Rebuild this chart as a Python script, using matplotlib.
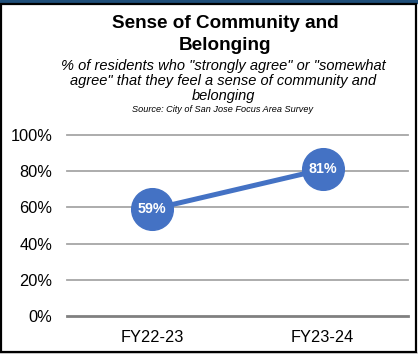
import matplotlib.pyplot as plt
from matplotlib.patches import Rectangle

# Данные
years = ['FY22-23', 'FY23-24']
share = [59, 81]
yticks = [0, 20, 40, 60, 80, 100]

plt.rcParams['font.family'] = ['Liberation Sans', 'DejaVu Sans']

W, H = 418, 354
fig = plt.figure(figsize=(W / 100, H / 100), dpi=100)

# Рамка вокруг графика
fig.patches.append(Rectangle((0, 1 - 2.5 / H), 1, 2.5 / H, transform=fig.transFigure,
                             color='#1F4E79', zorder=0))
fig.patches.append(Rectangle((1 / W, 2 / H), 1 - 3 / W, 1 - 6 / H, transform=fig.transFigure,
                             facecolor='none', edgecolor='black', lw=1.6, zorder=1))
fig.patches.append(Rectangle((0, 0), 1, 2 / H, transform=fig.transFigure,
                             color='#D9D9D9', zorder=0))

ax = fig.add_axes([67 / W, 1 - 316 / H, 341 / W, 181 / H])

ax.plot(range(len(years)), share, color='#4472C4', lw=3.6, marker='o',
        markersize=30, markerfacecolor='#4472C4', markeredgecolor='#4472C4',
        zorder=3, clip_on=False)
for i, v in enumerate(share):
    ax.text(i, v, f'{v}%', color='white', fontsize=10.3, fontweight='bold',
            ha='center', va='center', zorder=4)

ax.set_xlim(-0.5, len(years) - 0.5)
ax.set_ylim(0, 100)
ax.set_xticks(range(len(years)))
ax.set_xticklabels(years, fontsize=11.8)
ax.set_yticks(yticks)
ax.set_yticklabels([f'{t}%' for t in yticks], fontsize=11.8)
ax.tick_params(length=0)
ax.tick_params(axis='x', pad=10)
ax.tick_params(axis='y', pad=10.5)

for t in yticks:
    if t == 0:
        ax.axhline(t, color='#808080', lw=2, zorder=1, clip_on=False)
    else:
        ax.axhline(t, color='#A6A6A6', lw=1.3, zorder=1, clip_on=False)
for s in ax.spines.values():
    s.set_visible(False)

# Заголовки
fig.text(225 / W, 1 - 23 / H, 'Sense of Community and', ha='center', va='center',
         fontsize=13.6, fontweight='bold')
fig.text(225 / W, 1 - 45 / H, 'Belonging', ha='center', va='center',
         fontsize=13.6, fontweight='bold')
fig.text(223 / W, 1 - 81 / H,
         '% of residents who "strongly agree" or "somewhat\n'
         'agree" that they feel a sense of community and\nbelonging',
         ha='center', va='center', fontsize=10.5, style='italic', linespacing=1.08)
fig.text(223 / W, 1 - 110 / H, 'Source: City of San Jose Focus Area Survey',
         ha='center', va='center', fontsize=6.6, style='italic')

fig.savefig('out.png', dpi=100)
